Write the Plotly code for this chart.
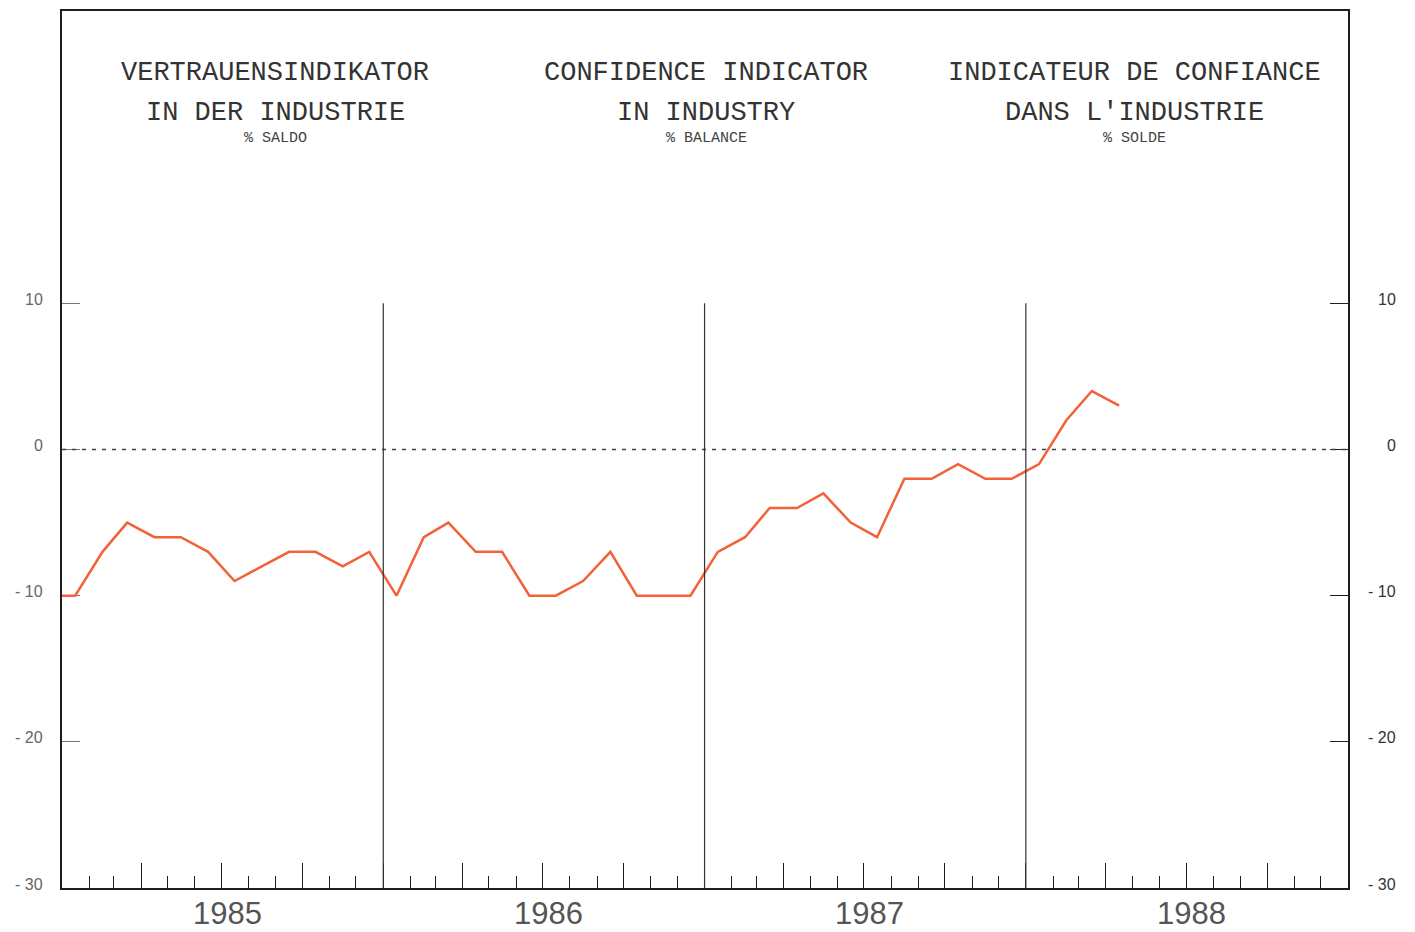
import plotly.graph_objects as go

# Monthly confidence indicator (% balance), Dec 1984 – Apr 1988
months = (["1984-12"] +
          [f"1985-{m:02d}" for m in range(1, 13)] +
          [f"1986-{m:02d}" for m in range(1, 13)] +
          [f"1987-{m:02d}" for m in range(1, 13)] +
          [f"1988-{m:02d}" for m in range(1, 5)])
values = ([-10] +
          [-10, -7, -5, -6, -6, -7, -9, -8, -7, -7, -8, -7] +
          [-10, -6, -5, -7, -7, -10, -10, -9, -7, -10, -10, -10] +
          [-7, -6, -4, -4, -3, -5, -6, -2, -2, -1, -2, -2] +
          [-1, 2, 4, 3])
years = ["1985", "1986", "1987", "1988"]
year_bounds = ["1986-01-01", "1987-01-01", "1988-01-01"]
ytick_vals = [10, 0, -10, -20, -30]
ytick_text = ["10", "0", "- 10", "- 20", "- 30"]
titles = [("VERTRAUENSINDIKATOR", "IN DER INDUSTRIE", "% SALDO"),
          ("CONFIDENCE INDICATOR", "IN INDUSTRY", "% BALANCE"),
          ("INDICATEUR DE CONFIANCE", "DANS L'INDUSTRIE", "% SOLDE")]
title_x = [0.166, 0.501, 0.834]

x_dates = [m + "-16" for m in months]

fig = go.Figure()
fig.add_trace(go.Scatter(x=x_dates, y=values, mode="lines",
                         line=dict(color="#f2623a", width=2.5),
                         showlegend=False, hoverinfo="skip"))
# invisible trace for right axis
fig.add_trace(go.Scatter(x=x_dates[:1], y=values[:1], yaxis="y2", mode="lines",
                         line=dict(width=0), showlegend=False, hoverinfo="skip"))

frame = "#1e1e1e"
fig.update_layout(
    width=1415, height=932,
    margin=dict(l=62, r=67, t=9, b=44),
    paper_bgcolor="white", plot_bgcolor="white",
    xaxis=dict(type="date", range=["1985-01-01", "1989-01-01"],
               showgrid=False, zeroline=False,
               showline=True, linecolor=frame, linewidth=2, mirror=True,
               ticks="inside", ticklen=25, tickcolor=frame, tickwidth=1.2,
               tick0="1985-01-01", dtick="M3", showticklabels=False,
               minor=dict(dtick="M1", tick0="1985-01-01", ticks="inside",
                          ticklen=12, tickcolor=frame, tickwidth=1.2, showgrid=False)),
    yaxis=dict(range=[-30, 30], showgrid=False, zeroline=False,
               showline=True, linecolor=frame, linewidth=2, mirror=True,
               tickvals=ytick_vals, ticks="inside", ticklen=18,
               tickcolor="#777", tickwidth=1, showticklabels=False,
               layer="below traces"),
    yaxis2=dict(range=[-30, 30], overlaying="y", side="right",
                showgrid=False, zeroline=False,
                showline=True, linecolor=frame, linewidth=2,
                tickvals=ytick_vals, ticks="inside", ticklen=18,
                tickcolor=frame, tickwidth=1.2, showticklabels=False),
)

# tick labels on both sides (right-aligned like the original)
for v, t in zip(ytick_vals, ytick_text):
    fig.add_annotation(x=0, y=v, xref="paper", yref="y", xanchor="right",
                       yanchor="middle", xshift=-17, yshift=4, text=t, showarrow=False,
                       font=dict(family="Liberation Sans", size=16, color="#666"))
    fig.add_annotation(x=1, y=v, xref="paper", yref="y", xanchor="right",
                       yanchor="middle", xshift=50, yshift=4, text=t, showarrow=False,
                       font=dict(family="Liberation Sans", size=16, color="#333"))

# zero dashed line
fig.add_shape(type="line", xref="paper", yref="y", x0=0, x1=1, y0=0, y1=0,
              line=dict(color="#444", width=1.3, dash="4px,6px"))
# year boundary lines
for b in year_bounds:
    fig.add_shape(type="line", xref="x", yref="y", x0=b, x1=b, y0=-30, y1=10,
                  line=dict(color="#333", width=1.2))

# year labels
for yr in years:
    fig.add_annotation(x=f"{yr}-07-02", y=0, xref="x", yref="paper",
                       yanchor="middle", xshift=5, yshift=-25, text=yr, showarrow=False,
                       font=dict(family="Liberation Sans", size=31, color="#555"))

# titles
for xs, (l1, l2, l3) in zip(title_x, titles):
    for txt, dy, sz, col in [(l1, 62, 27, "#333"), (l2, 102, 27, "#333"),
                             (l3, 127, 15, "#444")]:
        fig.add_annotation(x=xs, y=1, xref="paper", yref="paper",
                           xanchor="center", yanchor="middle",
                           yshift=-dy, text=txt, showarrow=False,
                           font=dict(family="Liberation Mono", size=sz, color=col))

fig.write_html("out.html", config={"displayModeBar": False},
               post_script="document.body.style.margin='0';document.body.style.overflow='hidden';")
